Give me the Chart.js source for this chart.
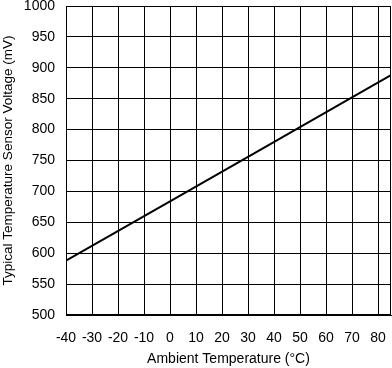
<!DOCTYPE html>
<html>
<head>
<meta charset="utf-8">
<script src="https://cdn.jsdelivr.net/npm/chart.js@4/dist/chart.umd.min.js"></script>
<style>
  html, body { margin: 0; padding: 0; background: #fff; }
  #wrap { width: 392px; height: 368px; }
</style>
</head>
<body>
<div id="wrap"><canvas id="tempChart"></canvas></div>
<script>
// readings taken off the plot
const tempC = [-40, 0, 30, 70, 85];
const voltageMv = [588, 684, 756, 852, 888];

const points = tempC.map((t, i) => ({x: t, y: voltageMv[i]}));

// box around the plot area (Chart.js only draws left/bottom borders)
const frame = {
    id: 'frame',
    afterDraw(chart){
        const a = chart.chartArea, c = chart.ctx;
        c.save();
        c.strokeStyle = '#000';
        c.lineWidth = 1;
        c.strokeRect(a.left + 0.5, a.top + 0.5, a.right - a.left - 1, a.bottom - a.top - 1);
        c.restore();
    }
};

const tickFont = {family: 'Liberation Sans', size: 14};

const ctx = document.getElementById('tempChart').getContext('2d');
new Chart(ctx, {
    type: 'scatter',
    data: {
        datasets: [{
            data: points,
            showLine: true,
            borderColor: '#000',
            borderWidth: 2,
            pointRadius: 0,
            fill: false
        }]
    },
    options: {
        responsive: true,
        maintainAspectRatio: false,
        animation: false,
        layout: {padding: {top: 6, right: 1, left: 0, bottom: 0}},
        plugins: {legend: {display: false}, tooltip: {enabled: false}},
        scales: {
            x: {
                type: 'linear',
                min: -40, max: 85,
                afterFit(s){ s.height = 53; s.paddingLeft = 0; s.paddingRight = 0; },
                grid: {color: '#000', lineWidth: 1, drawTicks: false},
                border: {color: '#000'},
                ticks: {stepSize: 10, includeBounds: false, maxRotation: 0, autoSkip: false,
                        color: '#000', padding: 15, font: tickFont},
                title: {display: true, text: 'Ambient Temperature (°C)', color: '#000',
                        font: {family: 'Liberation Sans', size: 14}, padding: {top: 0, bottom: 0}}
            },
            y: {
                min: 500, max: 1000,
                afterFit(s){ s.width = 66; s.paddingTop = 0; s.paddingBottom = 0; },
                grid: {color: '#000', lineWidth: 1, drawTicks: false},
                border: {color: '#000'},
                ticks: {stepSize: 50, color: '#000', padding: 11, font: tickFont,
                        callback: v => String(v)},
                title: {display: true, text: 'Typical Temperature Sensor Voltage (mV)', color: '#000',
                        font: {family: 'Liberation Sans', size: 13.5}, padding: {top: 0, bottom: 0}}
            }
        }
    },
    plugins: [frame]
});
</script>
</body>
</html>
